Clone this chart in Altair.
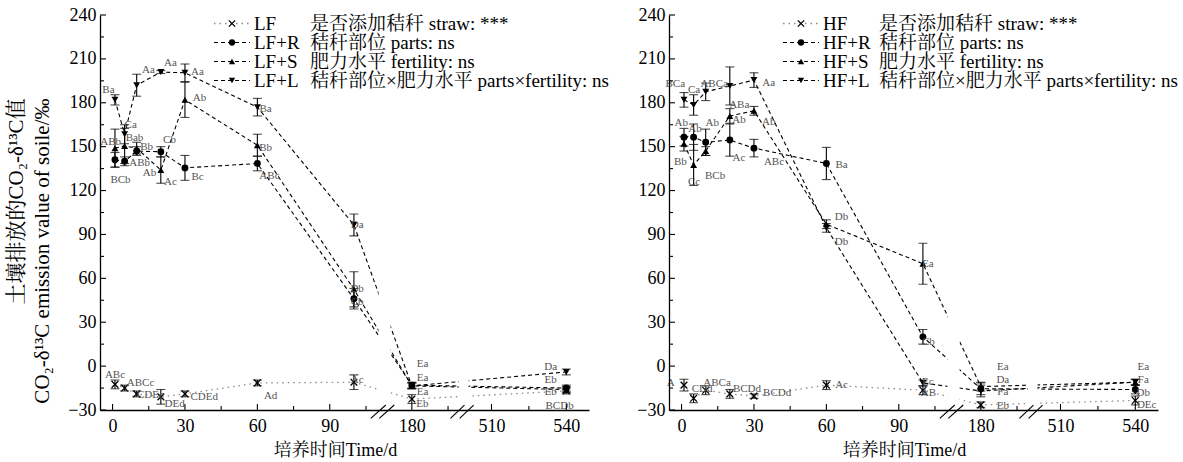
import altair as alt
import pandas as pd

FONT = "Liberation Serif, Noto Serif CJK SC, Noto Sans CJK SC, serif"

# ---------------- data ----------------
days = [1, 5, 10, 20, 30, 60, 100, 180, 540]

# left panel (LF)
lf_names = ["LF", "LF+R", "LF+S", "LF+L"]
lf_ck = [-12.5, -15.0, -19.0, -21.0, -19.0, -11.5, -11.0, -22.5, -17.0]
lf_ck_err = [3, 2, 2, 5, 2, 2, 5, 3, 2]
lf_r = [141.0, 140.0, 147.0, 146.5, 135.5, 138.5, 46.0, -13.0, -15.0]
lf_r_err = [5, 3, 3, 3.5, 8.5, 5, 7, 2, 2]
lf_s = [149.0, 150.5, 149.0, 134.0, 182.0, 151.0, 52.5, -13.5, -16.0]
lf_s_err = [13, 12, 4, 9, 12, 7.5, 12, 2, 2]
lf_l = [182.0, 158.5, 192.0, 201.0, 200.5, 177.0, 96.5, -13.5, -4.0]
lf_l_err = [3.5, 6.5, 7.5, 1, 6, 6, 7.5, 2, 2]

lf_lab_text = ["Ba", "Ca", "Aa", "Aa", "Aa", "ABb", "Bab", "Bb", "Cb", "ABb", "BCb", "Ab", "Ac",
               "Bc", "Ab", "Ba", "Bb", "ABc", "Da", "Db", "Cb", "Ac", "Ea", "Ea", "Ea", "Eb",
               "Da", "Eb", "Eb", "BCDb", "ABc", "ABCc", "CDEc", "DEd", "CDEd", "Ad"]
lf_lab_day = [-1.7, 7.5, 14.9, 24.0, 35.2, -0.8, 9.1, 14.1, 23.6, 11.2, 3.3, 15.3, 24.0,
              35.2, 36.0, 63.4, 63.4, 65.0, 104.4, 104.4, 104.4, 104.6, 224, 224, 224, 224,
              533.7, 533.7, 533.7, 537.3, 1.0, 11.6, 15.7, 25.7, 38.0, 65.5]
lf_lab_val = [188.7, 164.8, 202.4, 207.2, 201.0, 153.2, 156.0, 149.8, 154.6, 138.8, 127.2, 132.0, 125.9,
              129.3, 183.3, 175.7, 149.1, 130.0, 96.5, 52.7, 43.8, -9.5, 1.5, -8.1, -17.7, -25.9,
              -0.6, -9.5, -17.7, -27.3, -6.1, -11.5, -19.7, -25.9, -21.1, -20.4]

# right panel (HF)
hf_names = ["HF", "HF+R", "HF+S", "HF+L"]
hf_ck = [-13.0, -22.0, -16.5, -19.0, -20.5, -13.0, -16.5, -26.5, -23.5]
hf_ck_err = [4, 3, 3, 3, 1.5, 3, 3, 2, 3]
hf_r = [156.5, 156.5, 153.0, 154.5, 149.0, 138.5, 20.0, -15.5, -16.0]
hf_r_err = [6, 9, 9, 11, 6, 11, 5, 4, 3]
hf_s = [152.0, 137.5, 147.0, 171.0, 174.5, 97.0, 70.0, -14.0, -11.0]
hf_s_err = [5, 14, 3, 5, 3, 3, 14, 3, 2]
hf_l = [182.0, 178.5, 187.5, 191.5, 195.5, 94.5, -11.5, -17.0, -11.0]
hf_l_err = [5, 7, 6, 13, 5, 3, 2, 4, 2]

hf_lab_text = ["BCa", "Ca", "ABCa", "ABa", "Aa", "Ab", "Ab", "Ab", "Ab", "Ab", "Bb", "Cc", "BCb",
               "Ac", "ABc", "Ba", "Db", "Db", "Ea", "Cb", "Ec", "AB", "Ac", "Ea", "Da", "Fa", "Eb",
               "Ea", "Fa", "Db", "DEc", "A", "CDd", "ABCa", "BCDd", "BCDd"]
hf_lab_day = [-2.6, 5.2, 13.5, 23.9, 36.1, -0.1, 5.6, 12.7, 23.8, 36.1, -0.5, 5.2, 13.9,
              23.8, 38.3, 66.3, 66.3, 66.3, 106.7, 107.5, 106.7, 107.5, 66.3, 271, 271, 271, 271,
              543.3, 543.3, 543.3, 544.7, -4.5, 8.5, 14.7, 27.1, 39.6]
hf_lab_val = [192.8, 188.7, 192.8, 178.5, 193.5, 166.2, 162.1, 166.2, 168.2, 166.9, 139.5, 125.9, 130.0,
              142.3, 139.5, 137.5, 101.9, 84.8, 69.8, 16.5, -10.9, -18.4, -12.9, -0.6, -9.5, -17.7, -27.3,
              -0.6, -9.5, -18.4, -26.6, -11.5, -15.6, -11.5, -15.6, -18.4]

legend_rest = ["是否添加秸秆 straw: ***", "秸秆部位 parts: ns", "肥力水平 fertility: ns",
               "秸秆部位×肥力水平 parts×fertility: ns"]

y_ticks_major = [-30, 0, 30, 60, 90, 120, 150, 180, 210, 240]
y_ticks_minor = [-15, 15, 45, 75, 105, 135, 165, 195, 225]
x_ticks_major = [0, 30, 60, 90, 180, 510, 540]
x_ticks_minor = [15, 45, 75, 116.67, 330, 525]

# broken-axis scale: day anchors and their positions on a continuous "virtual" axis
axis_days = [-5.2, 100, 180, 510, 540, 549.4]
axis_virtual = [-5.2, 100, 124, 157, 188, 197.4]
gaps = [(134, 150.7), (375, 415)]
slashes = [(123.3, 144.0), (135.0, 155.7), (340, 398), (378, 436)]

W, H = 489, 395
XPATH = "M-1,-1L1,1M-1,1L1,-1"

x_range = [(v - axis_virtual[0]) * W / (axis_virtual[-1] - axis_virtual[0]) for v in axis_virtual]
xscale = alt.Scale(domain=axis_days, range=x_range, nice=False, zero=False)
yscale = alt.Scale(domain=[-30, 240], nice=False, zero=False)


def make_panel(names, vals, errs, lab_text, lab_day, lab_val, ytitle, title_x):
    rows = []
    for name, vs, es in zip(names, vals, errs):
        for d, v, e in zip(days, vs, es):
            rows.append(dict(series=name, day=d, val=v, lo=v - e, hi=v + e))
    df = pd.DataFrame(rows)
    ck = df[df.series == names[0]]
    tr = df[df.series != names[0]]

    xaxis = alt.Axis(values=x_ticks_major, ticks=False, grid=False, domainColor="black", domainWidth=1.3,
                     labelFont=FONT, labelFontSize=18, labelColor="black", labelPadding=7, format="d",
                     labelFlush=False, labelOverlap=False, title="培养时间Time/d", titleFont=FONT,
                     titleFontSize=18, titleFontWeight="normal", titleColor="black", titleX=235, titleY=40,
                     titleAlign="center", titleBaseline="middle", zindex=1)
    yaxis = alt.Axis(values=y_ticks_major, ticks=False, grid=False, domainColor="black", domainWidth=1.3,
                     labelFont=FONT, labelFontSize=18, labelColor="black", labelPadding=4,
                     labelFlush=False, labelOverlap=False, title=ytitle, titleFont=FONT, titleFontSize=21,
                     titleFontWeight="normal", titleColor="black", titleAngle=-90, titleX=title_x, titleY=83,
                     titleAlign="right", titleBaseline="middle", titleLineHeight=26, zindex=1)

    def X(f):
        return alt.X(f, type="quantitative", scale=xscale, axis=xaxis)

    def Y(f):
        return alt.Y(f, type="quantitative", scale=yscale, axis=yaxis)

    layers = []
    layers.append(alt.Chart(ck).mark_line(color="#8c8c8c", strokeDash=[1.5, 4], strokeWidth=1.3)
                  .encode(x=X("day"), y=Y("val")))
    layers.append(alt.Chart(tr).mark_line(color="black", strokeDash=[4, 3], strokeWidth=1.1)
                  .encode(x=X("day"), y=Y("val"), detail="series:N"))
    gdf = pd.DataFrame({"a": [g[0] for g in gaps], "b": [g[1] for g in gaps], "lo": [-29, -29], "hi": [240, 240]})
    layers.append(alt.Chart(gdf).mark_rect(color="white").encode(x=X("a"), x2="b", y=Y("lo"), y2="hi"))
    layers.append(alt.Chart(df).mark_rule(color="black", strokeWidth=1.1).encode(x=X("day"), y=Y("lo"), y2="hi"))
    layers.append(alt.Chart(df).mark_tick(orient="horizontal", size=9, thickness=1.1, color="black")
                  .encode(x=X("day"), y=Y("lo")))
    layers.append(alt.Chart(df).mark_tick(orient="horizontal", size=9, thickness=1.1, color="black")
                  .encode(x=X("day"), y=Y("hi")))
    layers.append(alt.Chart(tr).mark_point(filled=True, size=48, color="black", opacity=1)
                  .encode(x=X("day"), y=Y("val"),
                          shape=alt.Shape("series:N", scale=alt.Scale(domain=names[1:],
                                          range=["circle", "triangle-up", "triangle-down"]), legend=None)))
    layers.append(alt.Chart(ck).mark_point(shape=XPATH, filled=False, size=45, color="black", strokeWidth=1.3,
                                           opacity=1).encode(x=X("day"), y=Y("val")))
    ldf = pd.DataFrame({"t": lab_text, "day": lab_day, "val": lab_val})
    layers.append(alt.Chart(ldf).mark_text(font=FONT, fontSize=11, color="#555555", align="center",
                                           baseline="middle").encode(x=X("day"), y=Y("val"), text="t:N"))
    sdf = pd.DataFrame({"x1": [s[0] for s in slashes], "x2": [s[1] for s in slashes],
                        "y1": [-35.7] * 4, "y2": [-26.6] * 4})
    layers.append(alt.Chart(sdf).mark_rule(color="black", strokeWidth=1.1)
                  .encode(x=X("x1"), x2="x2", y=Y("y1"), y2="y2"))
    # inward ticks
    layers.append(alt.Chart(pd.DataFrame({"d": x_ticks_major})).mark_rule(color="black", strokeWidth=1.1)
                  .encode(x=X("d"), y=alt.value(H), y2=alt.value(H - 6)))
    layers.append(alt.Chart(pd.DataFrame({"d": x_ticks_minor})).mark_rule(color="black", strokeWidth=1.1)
                  .encode(x=X("d"), y=alt.value(H), y2=alt.value(H - 4)))
    layers.append(alt.Chart(pd.DataFrame({"v": y_ticks_major})).mark_rule(color="black", strokeWidth=1.1)
                  .encode(y=Y("v"), x=alt.value(0), x2=alt.value(6)))
    layers.append(alt.Chart(pd.DataFrame({"v": y_ticks_minor})).mark_rule(color="black", strokeWidth=1.1)
                  .encode(y=Y("v"), x=alt.value(0), x2=alt.value(4)))
    # legend
    ly = [8.5, 27.5, 46.5, 65.5]
    shapes = [XPATH, "circle", "triangle-up", "triangle-down"]
    for i in range(4):
        one = pd.DataFrame({"row": [i]})
        if i == 0:
            layers.append(alt.Chart(one).mark_rule(color="#8c8c8c", strokeDash=[1.5, 4], strokeWidth=1.3)
                          .encode(x=alt.value(114), x2=alt.value(150), y=alt.value(ly[i])))
            layers.append(alt.Chart(one).mark_point(shape=XPATH, filled=False, size=40, color="black",
                                                    strokeWidth=1.3, opacity=1)
                          .encode(x=alt.value(132), y=alt.value(ly[i])))
        else:
            layers.append(alt.Chart(one).mark_rule(color="black", strokeDash=[4, 3], strokeWidth=1.1)
                          .encode(x=alt.value(114), x2=alt.value(150), y=alt.value(ly[i])))
            layers.append(alt.Chart(one).mark_point(shape=shapes[i], filled=True, size=40, color="black",
                                                    opacity=1)
                          .encode(x=alt.value(132), y=alt.value(ly[i])))
        layers.append(alt.Chart(one).mark_text(font=FONT, fontSize=19, color="black", align="left",
                                               baseline="middle")
                      .encode(x=alt.value(154), y=alt.value(ly[i]), text=alt.value(names[i])))
        layers.append(alt.Chart(one).mark_text(font=FONT, fontSize=19, color="black", align="left",
                                               baseline="middle")
                      .encode(x=alt.value(210), y=alt.value(ly[i]), text=alt.value(legend_rest[i])))
    return alt.layer(*layers).properties(width=W, height=H)


left = make_panel(lf_names, [lf_ck, lf_r, lf_s, lf_l], [lf_ck_err, lf_r_err, lf_s_err, lf_l_err],
                  lf_lab_text, lf_lab_day, lf_lab_val,
                  ["土壤排放的CO₂-δ¹³C值", "CO₂-δ¹³C emission value of soile/‰"], -84)
right = make_panel(hf_names, [hf_ck, hf_r, hf_s, hf_l], [hf_ck_err, hf_r_err, hf_s_err, hf_l_err],
                   hf_lab_text, hf_lab_day, hf_lab_val, "", -60)

chart = alt.hconcat(left, right, spacing=80, bounds="flush").configure_view(stroke=None).properties(
    padding={"left": 4, "top": 6, "right": 0, "bottom": 0},
    background="white",
)

chart.save("out.html", embed_options={"renderer": "svg", "actions": False})
